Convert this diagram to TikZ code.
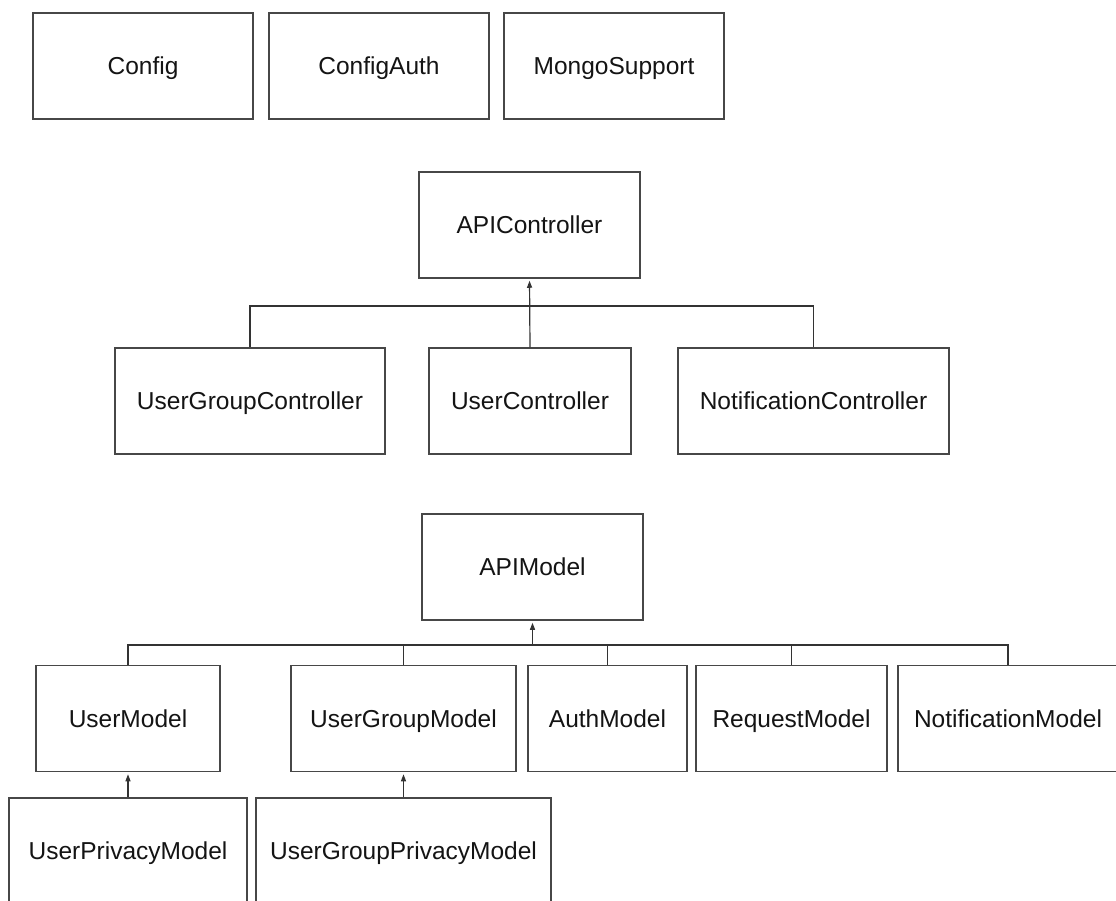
\documentclass[tikz,border=0pt]{standalone}
\usepackage{fontspec}
\setmainfont{Liberation Sans}
\usetikzlibrary{arrows.meta}

\tikzset{
  cls/.style={draw=black!72, line width=1.5pt, fill=white, inner sep=0pt,
              minimum height=106pt, text=black!92,
              text height=17.5pt, text depth=0pt,
              font=\fontsize{24.5}{29}\selectfont},
  link/.style={draw=black!80, line width=1.2pt},
  inherit/.style={link, -{Triangle[length=7pt,width=5pt]}, shorten >=2pt}
}

\begin{document}
\begin{tikzpicture}[x=1pt, y=-1pt]
  \clip (0,0) rectangle (1116,900);
  \useasboundingbox (0,0) rectangle (1116,900);

  % standalone classes
  \node[cls, minimum width=220pt] (config)     at (143,66) {Config};
  \node[cls, minimum width=220pt] (configauth) at (379,66) {ConfigAuth};
  \node[cls, minimum width=220pt] (mongo)      at (614,66) {MongoSupport};

  % controller hierarchy
  \node[cls, minimum width=221pt] (apictrl)   at (529.5,225) {APIController};
  \node[cls, minimum width=270pt] (ugctrl)    at (250,401)   {UserGroupController};
  \node[cls, minimum width=202pt] (userctrl)  at (530,401)   {UserController};
  \node[cls, minimum width=271pt] (notifctrl) at (813.5,401) {NotificationController};

  \coordinate (cbus) at (530,306);
  \draw[link] (ugctrl.north) |- (cbus);
  \draw[link] (notifctrl.north) |- (cbus);
  \draw[inherit] (userctrl.north) -- (apictrl.south);

  % model hierarchy
  \node[cls, minimum width=221pt] (apimodel)  at (532.5,567)   {APIModel};
  \node[cls, minimum width=184pt] (usermodel) at (128,718.5)   {UserModel};
  \node[cls, minimum width=225pt] (ugmodel)   at (403.5,718.5) {UserGroupModel};
  \node[cls, minimum width=159pt] (authmodel) at (607.5,718.5) {AuthModel};
  \node[cls, minimum width=191pt] (reqmodel)  at (791.5,718.5) {RequestModel};
  \node[cls, minimum width=220pt] (notmodel)  at (1008,718.5)  {NotificationModel};

  \coordinate (mbus) at (532.5,645);
  \draw[link] (usermodel.north) |- (mbus);
  \draw[link] (ugmodel.north) |- (mbus);
  \draw[link] (authmodel.north) |- (mbus);
  \draw[link] (reqmodel.north) |- (mbus);
  \draw[link] (notmodel.north) |- (mbus);
  \draw[inherit] (mbus) -- (apimodel.south);

  % privacy models
  \node[cls, minimum width=238pt] (uprivacy)  at (128,851)   {UserPrivacyModel};
  \node[cls, minimum width=295pt] (ugprivacy) at (403.5,851) {UserGroupPrivacyModel};

  \draw[inherit] (uprivacy.north) -- (usermodel.south);
  \draw[inherit] (ugprivacy.north) -- (ugmodel.south);
\end{tikzpicture}
\end{document}
